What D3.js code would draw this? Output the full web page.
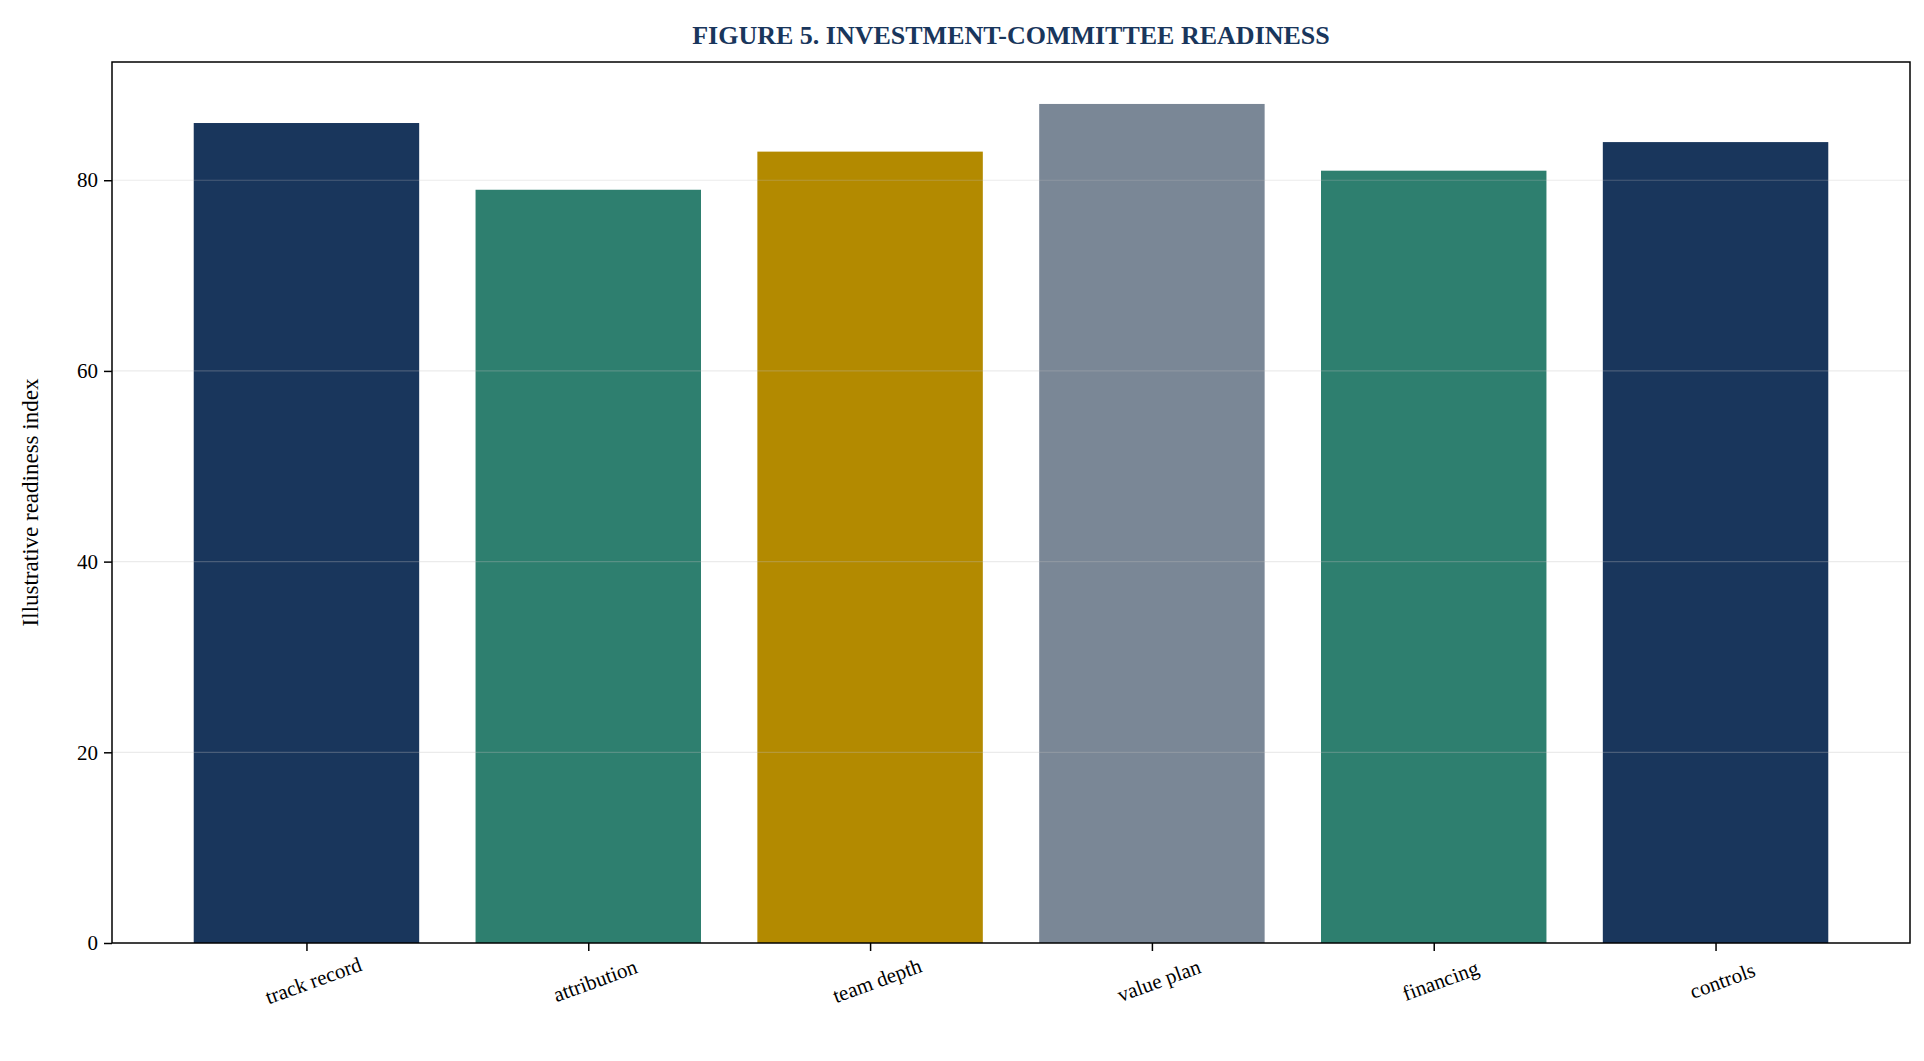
<!DOCTYPE html>
<html><head><meta charset="utf-8">
<script src="https://cdn.jsdelivr.net/npm/d3@7"></script>
<style>body{margin:0;background:#fff}</style>
</head><body><svg id="chart"></svg>
<script>
const categories = ["track record", "attribution", "team depth", "value plan", "financing", "controls"];
const values = [86, 79, 83, 88, 81, 84];
const colors = ["#19365c", "#2e7f6f", "#b38a00", "#7a8796", "#2e7f6f", "#19365c"];
const yTicks = [0, 20, 40, 60, 80];

const W = 1924, H = 1061;
const m = {top: 62, right: 14, bottom: 118, left: 112};
const svg = d3.select("#chart").attr("width", W).attr("height", H)
    .style("font-family", "'Liberation Serif', 'Times New Roman', serif");

const x = d3.scaleLinear().domain([-0.69, categories.length - 1 + 0.69]).range([m.left, W - m.right]);
const y = d3.scaleLinear().domain([0, 92.4]).range([H - m.bottom, m.top]);
const bw = x(0.4) - x(-0.4);

svg.selectAll("rect.bar").data(values).enter().append("rect")
    .attr("class", "bar")
    .attr("x", (d, i) => x(i) - bw / 2)
    .attr("width", bw)
    .attr("y", d => y(d))
    .attr("height", d => y(0) - y(d))
    .attr("fill", (d, i) => colors[i]);

// grid sits over the bars, faintly
svg.selectAll("line.grid").data(yTicks.slice(1)).enter().append("line")
    .attr("x1", m.left).attr("x2", W - m.right)
    .attr("y1", d => y(d)).attr("y2", d => y(d))
    .attr("stroke", "rgba(190,190,190,0.3)").attr("stroke-width", 1.2);

const yAxis = svg.append("g").attr("transform", `translate(${m.left},0)`)
    .call(d3.axisLeft(y).tickValues(yTicks).tickSize(8).tickPadding(6));
const xAxis = svg.append("g").attr("transform", `translate(0,${H - m.bottom})`)
    .call(d3.axisBottom(x).tickValues(d3.range(categories.length)).tickFormat(i => categories[i]).tickSize(8));
[yAxis, xAxis].forEach(a => {
    a.select(".domain").remove();
    a.selectAll("line").attr("stroke", "#000").attr("stroke-width", 1.5);
    a.selectAll("text").attr("fill", "#000").style("font-size", "21px").style("font-family", "'Liberation Serif', serif");
});
xAxis.selectAll("text")
    .attr("text-anchor", "middle")
    .attr("transform", "translate(0,20) rotate(-20)");

svg.append("rect").attr("x", m.left).attr("y", m.top)
    .attr("width", W - m.left - m.right).attr("height", H - m.top - m.bottom)
    .attr("fill", "none").attr("stroke", "#000").attr("stroke-width", 1.5);

svg.append("text").attr("x", (m.left + W - m.right) / 2).attr("y", 44)
    .attr("text-anchor", "middle").attr("font-weight", "bold")
    .attr("fill", "#19365c").style("font-size", "26px")
    .text("FIGURE 5. INVESTMENT-COMMITTEE READINESS");

svg.append("text")
    .attr("transform", `translate(38,${(m.top + H - m.bottom) / 2}) rotate(-90)`)
    .attr("text-anchor", "middle").style("font-size", "23px")
    .text("Illustrative readiness index");
</script></body></html>
